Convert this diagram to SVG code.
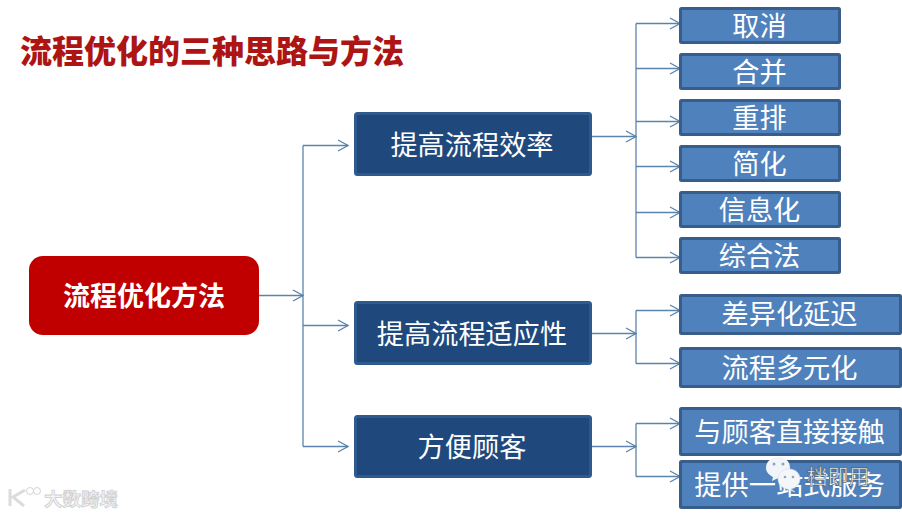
<svg xmlns="http://www.w3.org/2000/svg" width="902" height="516" viewBox="0 0 902 516">
<style>
text{font-family:"Noto Sans CJK SC","Liberation Sans",sans-serif;text-anchor:middle;fill:#fff}
.leaf rect{fill:#4f81bd;stroke:#385d8a;stroke-width:3}
.mid rect{fill:#1f497d;stroke:#2f5a8e;stroke-width:3}
.leaf text{font-size:27.200px}
.mid text{font-size:27.200px}
.c path{fill:none;stroke:#5b84ac;stroke-width:1.3}
.wm{fill:#f4f4f4;stroke:#cfcfcf;stroke-width:.8}
</style>
<defs><marker id="a" markerUnits="userSpaceOnUse" markerWidth="12" markerHeight="14" refX="11" refY="7" orient="auto"><path d="M1 1.500 L11 7 L1 12.500" fill="none" stroke="#5b84ac" stroke-width="1.300"/></marker></defs>
<rect width="902" height="516" fill="#fff"/>
<text id="title" x="212" y="63" style="font-size:32px;font-weight:900;fill:#ad1414">流程优化的三种思路与方法</text>
<g class="c">
<path d="M259 295.500H303" marker-end="url(#a)"/>
<path d="M303 145.500V446.500"/>
<path d="M303 145.500H348" marker-end="url(#a)"/>
<path d="M303 325.500H348" marker-end="url(#a)"/>
<path d="M303 446.500H348" marker-end="url(#a)"/>
<path d="M592 136.500H636" marker-end="url(#a)"/>
<path d="M636 23.500V257.500"/>
<path d="M636 23.500H680" marker-end="url(#a)"/>
<path d="M636 68.500H680" marker-end="url(#a)"/>
<path d="M636 121.500H680" marker-end="url(#a)"/>
<path d="M636 166.500H680" marker-end="url(#a)"/>
<path d="M636 212.500H680" marker-end="url(#a)"/>
<path d="M636 257.500H680" marker-end="url(#a)"/>
<path d="M592 333.500H636" marker-end="url(#a)"/>
<path d="M636 310.500V363.500"/>
<path d="M636 310.500H680" marker-end="url(#a)"/>
<path d="M636 363.500H680" marker-end="url(#a)"/>
<path d="M592 446.500H636" marker-end="url(#a)"/>
<path d="M636 423.500V476.500"/>
<path d="M636 423.500H680" marker-end="url(#a)"/>
<path d="M636 476.500H680" marker-end="url(#a)"/>
</g>
<g id="root"><rect x="29" y="256" width="230" height="79" rx="14" fill="#c00000"/><text x="144" y="306" style="font-size:27px;font-weight:700">流程优化方法</text></g>
<g id="m1" class="mid"><rect x="355.500" y="113.500" width="235" height="61" rx="2"/><text x="472" y="155">提高流程效率</text></g>
<g id="m2" class="mid"><rect x="355.500" y="302.500" width="235" height="61" rx="2"/><text x="472" y="344">提高流程适应性</text></g>
<g id="m3" class="mid"><rect x="355.500" y="416.500" width="235" height="60" rx="2"/><text x="472" y="457">方便顾客</text></g>
<g id="l1" class="leaf"><rect x="680.500" y="8.500" width="159" height="34" rx="1"/><text x="759.500" y="36">取消</text></g>
<g id="l2" class="leaf"><rect x="680.500" y="54.500" width="159" height="34" rx="1"/><text x="759.500" y="82">合并</text></g>
<g id="l3" class="leaf"><rect x="680.500" y="100.500" width="159" height="34" rx="1"/><text x="759.500" y="128">重排</text></g>
<g id="l4" class="leaf"><rect x="680.500" y="146.500" width="159" height="34" rx="1"/><text x="759.500" y="174">简化</text></g>
<g id="l5" class="leaf"><rect x="680.500" y="192.500" width="159" height="34" rx="1"/><text x="759.500" y="220">信息化</text></g>
<g id="l6" class="leaf"><rect x="680.500" y="238.500" width="159" height="34" rx="1"/><text x="759.500" y="266">综合法</text></g>
<g id="l7" class="leaf"><rect x="680.500" y="295.500" width="220" height="38" rx="1"/><text x="789.500" y="324">差异化延迟</text></g>
<g id="l8" class="leaf"><rect x="680.500" y="348.500" width="220" height="38" rx="1"/><text x="789.500" y="378">流程多元化</text></g>
<g id="l9" class="leaf"><rect x="680.500" y="408.500" width="220" height="46" rx="1"/><text x="789.500" y="442">与顾客直接接触</text></g>
<g id="l10" class="leaf"><rect x="680.500" y="461.500" width="220" height="46" rx="1"/><text x="789.500" y="495">提供一站式服务</text></g>
<g id="wechat">
<path d="M766 468C766 461 772 457 778 457C785 457 790 461 790 468C790 474 785 478 778 478L772 481L773 477C769 475 766 472 766 468Z" fill="#f1f4f8"/>
<path d="M778 479C778 473 783 469 789 469C795 469 800 473 800 479C800 484 796 488 791 489L795 492L787 489C782 488 778 484 778 479Z" fill="#f4f6f9" stroke="#d5dce6" stroke-width=".6"/>
<circle cx="774" cy="464" r="1.500" fill="#8fa3bd"/><circle cx="783" cy="464" r="1.500" fill="#8fa3bd"/>
<circle cx="785" cy="477" r="1.300" fill="#8fa3bd"/><circle cx="793" cy="477" r="1.300" fill="#8fa3bd"/>
<text x="838" y="484" style="font-size:21px;fill:#f7f7f7;stroke:#3c3c3c;stroke-width:.5">档即用</text>
</g>
<g id="watermark">
<path d="M10 489V506M25 490L13 497L24 506" fill="none" stroke="#dcdcdc" stroke-width="3"/>
<circle cx="30" cy="491" r="3.500" fill="#fff" stroke="#d4d4d4"/><circle cx="37" cy="491" r="3.500" fill="#fff" stroke="#d4d4d4"/>
<text x="81" y="506" class="wm" style="font-size:18.500px;font-weight:700">大数跨境</text>
</g>
</svg>
